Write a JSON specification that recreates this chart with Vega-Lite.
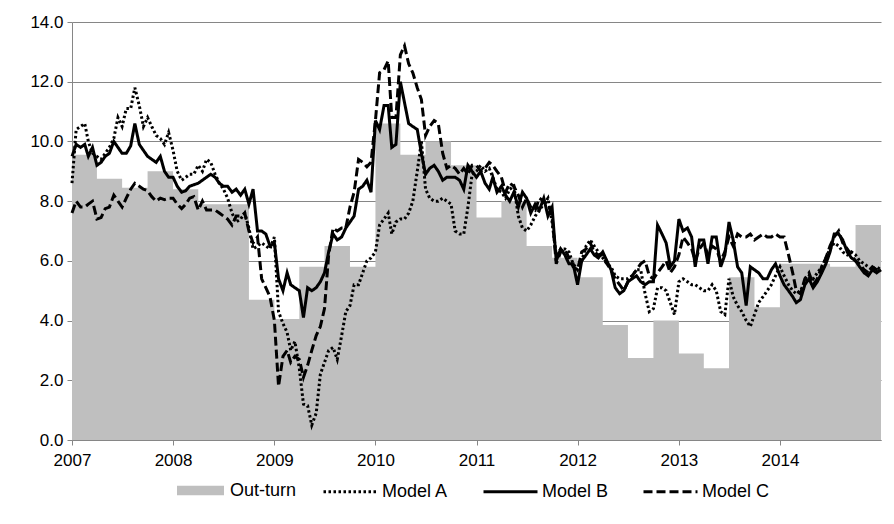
{
"$schema": "https://vega.github.io/schema/vega-lite/v6.json",
"width": 809, "height": 418,
"autosize": {"type": "none"},
"padding": {"left": 72, "top": 22, "right": 13, "bottom": 84},
"background": "white",
"config": {
  "view": {"stroke": null},
  "font": "Liberation Sans",
  "axis": {"labelFont": "Liberation Sans", "labelFontSize": 17, "labelColor": "#000000", "domainColor": "#868686", "tickColor": "#868686", "gridColor": "#868686", "tickSize": 5, "title": null},
  "legend": {"labelFont": "Liberation Sans", "labelFontSize": 18, "labelColor": "#000000", "title": null}
},
"datasets": {
"outturn": [
{"date":"2007-01-01","value":9.55},{"date":"2007-04-01","value":8.75},{"date":"2007-07-01","value":8.45},{"date":"2007-10-01","value":9.0},
{"date":"2008-01-01","value":8.4},{"date":"2008-04-01","value":7.9},{"date":"2008-07-01","value":7.9},{"date":"2008-10-01","value":4.7},
{"date":"2009-01-01","value":4.05},{"date":"2009-04-01","value":5.8},{"date":"2009-07-01","value":6.5},{"date":"2009-10-01","value":5.8},
{"date":"2010-01-01","value":10.6},{"date":"2010-04-01","value":9.55},{"date":"2010-07-01","value":10.0},{"date":"2010-10-01","value":9.2},
{"date":"2011-01-01","value":7.45},{"date":"2011-04-01","value":8.0},{"date":"2011-07-01","value":6.5},{"date":"2011-10-01","value":6.1},
{"date":"2012-01-01","value":5.45},{"date":"2012-04-01","value":3.85},{"date":"2012-07-01","value":2.75},{"date":"2012-10-01","value":4.0},
{"date":"2013-01-01","value":2.9},{"date":"2013-04-01","value":2.4},{"date":"2013-07-01","value":5.45},{"date":"2013-10-01","value":4.45},
{"date":"2014-01-01","value":5.9},{"date":"2014-04-01","value":5.9},{"date":"2014-07-01","value":5.8},{"date":"2014-10-01","value":7.2},
{"date":"2015-01-01","value":7.2}
],
"models": [
{"date":"2007-01-01","Model A":8.6,"Model B":9.5,"Model C":7.6},
{"date":"2007-01-16","Model A":10.4,"Model B":9.9,"Model C":8.0},
{"date":"2007-02-01","Model A":10.5,"Model B":9.8,"Model C":7.8},
{"date":"2007-02-16","Model A":10.6,"Model B":9.9,"Model C":7.8},
{"date":"2007-03-01","Model A":10.0,"Model B":9.5,"Model C":7.9},
{"date":"2007-03-16","Model A":9.6,"Model B":9.8,"Model C":8.0},
{"date":"2007-04-01","Model A":9.5,"Model B":9.2,"Model C":7.4},
{"date":"2007-04-16","Model A":9.4,"Model B":9.3,"Model C":7.45},
{"date":"2007-05-01","Model A":9.6,"Model B":9.5,"Model C":7.75},
{"date":"2007-05-16","Model A":9.8,"Model B":9.6,"Model C":7.8},
{"date":"2007-06-01","Model A":10.1,"Model B":10.0,"Model C":8.2},
{"date":"2007-06-16","Model A":10.8,"Model B":9.8,"Model C":8.0},
{"date":"2007-07-01","Model A":10.5,"Model B":9.6,"Model C":7.8},
{"date":"2007-07-16","Model A":11.1,"Model B":9.6,"Model C":8.1},
{"date":"2007-08-01","Model A":11.1,"Model B":9.85,"Model C":8.4},
{"date":"2007-08-16","Model A":11.8,"Model B":10.6,"Model C":8.6},
{"date":"2007-09-01","Model A":11.2,"Model B":9.9,"Model C":8.5},
{"date":"2007-09-16","Model A":10.5,"Model B":9.7,"Model C":8.4},
{"date":"2007-10-01","Model A":10.8,"Model B":9.5,"Model C":8.35},
{"date":"2007-10-16","Model A":10.5,"Model B":9.4,"Model C":8.15},
{"date":"2007-11-01","Model A":10.2,"Model B":9.3,"Model C":8.0},
{"date":"2007-11-16","Model A":10.1,"Model B":9.5,"Model C":8.1},
{"date":"2007-12-01","Model A":9.9,"Model B":9.0,"Model C":8.05},
{"date":"2007-12-16","Model A":10.3,"Model B":8.8,"Model C":8.1},
{"date":"2008-01-01","Model A":9.7,"Model B":8.8,"Model C":8.1},
{"date":"2008-01-16","Model A":9.0,"Model B":8.5,"Model C":7.9},
{"date":"2008-02-01","Model A":8.7,"Model B":8.3,"Model C":7.75},
{"date":"2008-02-16","Model A":8.8,"Model B":8.35,"Model C":7.9},
{"date":"2008-03-01","Model A":8.9,"Model B":8.5,"Model C":8.1},
{"date":"2008-03-16","Model A":8.9,"Model B":8.55,"Model C":8.15},
{"date":"2008-04-01","Model A":9.2,"Model B":8.6,"Model C":7.7},
{"date":"2008-04-16","Model A":9.0,"Model B":8.7,"Model C":8.0},
{"date":"2008-05-01","Model A":9.4,"Model B":8.8,"Model C":7.7},
{"date":"2008-05-16","Model A":9.3,"Model B":8.9,"Model C":7.7},
{"date":"2008-06-01","Model A":8.9,"Model B":8.8,"Model C":7.7},
{"date":"2008-06-16","Model A":8.6,"Model B":8.6,"Model C":7.6},
{"date":"2008-07-01","Model A":8.4,"Model B":8.5,"Model C":7.5},
{"date":"2008-07-16","Model A":8.1,"Model B":8.5,"Model C":7.4},
{"date":"2008-08-01","Model A":7.6,"Model B":8.3,"Model C":7.2},
{"date":"2008-08-16","Model A":7.3,"Model B":8.4,"Model C":7.5},
{"date":"2008-09-01","Model A":7.4,"Model B":8.2,"Model C":7.5},
{"date":"2008-09-16","Model A":7.6,"Model B":8.4,"Model C":7.6},
{"date":"2008-10-01","Model A":7.1,"Model B":7.9,"Model C":7.0},
{"date":"2008-10-16","Model A":6.4,"Model B":8.4,"Model C":6.6},
{"date":"2008-11-01","Model A":6.5,"Model B":7.0,"Model C":6.8},
{"date":"2008-11-16","Model A":6.6,"Model B":7.0,"Model C":5.4},
{"date":"2008-12-01","Model A":6.5,"Model B":6.9,"Model C":5.1},
{"date":"2008-12-16","Model A":6.4,"Model B":6.5,"Model C":4.8},
{"date":"2009-01-01","Model A":6.8,"Model B":6.6,"Model C":4.0},
{"date":"2009-01-16","Model A":4.3,"Model B":5.4,"Model C":1.8},
{"date":"2009-02-01","Model A":3.9,"Model B":5.0,"Model C":2.8},
{"date":"2009-02-16","Model A":3.6,"Model B":5.6,"Model C":3.0},
{"date":"2009-03-01","Model A":3.0,"Model B":5.2,"Model C":2.6},
{"date":"2009-03-16","Model A":3.3,"Model B":5.1,"Model C":2.8},
{"date":"2009-04-01","Model A":2.4,"Model B":5.0,"Model C":2.7},
{"date":"2009-04-16","Model A":1.2,"Model B":4.1,"Model C":2.1},
{"date":"2009-05-01","Model A":1.15,"Model B":5.1,"Model C":2.5},
{"date":"2009-05-16","Model A":0.5,"Model B":5.0,"Model C":3.0},
{"date":"2009-06-01","Model A":0.9,"Model B":5.1,"Model C":3.5},
{"date":"2009-06-16","Model A":2.2,"Model B":5.3,"Model C":3.8},
{"date":"2009-07-01","Model A":2.6,"Model B":5.6,"Model C":4.4},
{"date":"2009-07-16","Model A":3.0,"Model B":6.3,"Model C":6.2},
{"date":"2009-08-01","Model A":3.1,"Model B":6.9,"Model C":7.1},
{"date":"2009-08-16","Model A":2.7,"Model B":6.7,"Model C":7.0},
{"date":"2009-09-01","Model A":3.5,"Model B":6.8,"Model C":7.1},
{"date":"2009-09-16","Model A":4.3,"Model B":7.1,"Model C":7.1},
{"date":"2009-10-01","Model A":4.5,"Model B":7.3,"Model C":7.8},
{"date":"2009-10-16","Model A":5.2,"Model B":7.5,"Model C":8.3},
{"date":"2009-11-01","Model A":5.2,"Model B":8.4,"Model C":9.4},
{"date":"2009-11-16","Model A":5.6,"Model B":8.5,"Model C":9.3},
{"date":"2009-12-01","Model A":6.0,"Model B":8.7,"Model C":9.15},
{"date":"2009-12-16","Model A":6.1,"Model B":8.3,"Model C":9.3},
{"date":"2010-01-01","Model A":6.3,"Model B":10.7,"Model C":10.7},
{"date":"2010-01-16","Model A":7.2,"Model B":10.4,"Model C":12.3},
{"date":"2010-02-01","Model A":7.4,"Model B":11.2,"Model C":12.4},
{"date":"2010-02-16","Model A":7.6,"Model B":11.2,"Model C":12.7},
{"date":"2010-03-01","Model A":6.9,"Model B":9.8,"Model C":10.8},
{"date":"2010-03-16","Model A":7.3,"Model B":9.9,"Model C":10.8},
{"date":"2010-04-01","Model A":7.4,"Model B":12.0,"Model C":12.9},
{"date":"2010-04-16","Model A":7.4,"Model B":11.3,"Model C":13.2},
{"date":"2010-05-01","Model A":7.6,"Model B":10.6,"Model C":12.6},
{"date":"2010-05-16","Model A":8.0,"Model B":10.5,"Model C":12.3},
{"date":"2010-06-01","Model A":9.0,"Model B":10.4,"Model C":11.8},
{"date":"2010-06-16","Model A":10.0,"Model B":9.6,"Model C":11.4},
{"date":"2010-07-01","Model A":8.4,"Model B":8.9,"Model C":10.2},
{"date":"2010-07-16","Model A":8.1,"Model B":9.1,"Model C":10.5},
{"date":"2010-08-01","Model A":8.0,"Model B":9.2,"Model C":10.7},
{"date":"2010-08-16","Model A":8.0,"Model B":9.0,"Model C":10.6},
{"date":"2010-09-01","Model A":8.1,"Model B":8.7,"Model C":9.6},
{"date":"2010-09-16","Model A":8.0,"Model B":8.8,"Model C":9.1},
{"date":"2010-10-01","Model A":7.9,"Model B":8.8,"Model C":9.2},
{"date":"2010-10-16","Model A":7.0,"Model B":8.8,"Model C":9.1},
{"date":"2010-11-01","Model A":6.9,"Model B":8.7,"Model C":8.9},
{"date":"2010-11-16","Model A":6.9,"Model B":8.4,"Model C":9.1},
{"date":"2010-12-01","Model A":7.8,"Model B":9.2,"Model C":8.9},
{"date":"2010-12-16","Model A":8.9,"Model B":9.0,"Model C":9.2},
{"date":"2011-01-01","Model A":9.0,"Model B":8.8,"Model C":9.2},
{"date":"2011-01-16","Model A":9.2,"Model B":9.0,"Model C":9.0},
{"date":"2011-02-01","Model A":9.0,"Model B":8.6,"Model C":9.1},
{"date":"2011-02-16","Model A":9.1,"Model B":8.4,"Model C":9.3},
{"date":"2011-03-01","Model A":8.8,"Model B":8.8,"Model C":9.2},
{"date":"2011-03-16","Model A":8.4,"Model B":8.3,"Model C":9.0},
{"date":"2011-04-01","Model A":8.3,"Model B":8.5,"Model C":8.8},
{"date":"2011-04-16","Model A":8.1,"Model B":8.2,"Model C":8.3},
{"date":"2011-05-01","Model A":8.4,"Model B":8.0,"Model C":8.6},
{"date":"2011-05-16","Model A":8.5,"Model B":8.3,"Model C":8.5},
{"date":"2011-06-01","Model A":7.5,"Model B":7.8,"Model C":8.2},
{"date":"2011-06-16","Model A":7.1,"Model B":8.3,"Model C":7.8},
{"date":"2011-07-01","Model A":7.0,"Model B":8.1,"Model C":8.1},
{"date":"2011-07-16","Model A":7.2,"Model B":7.6,"Model C":7.8},
{"date":"2011-08-01","Model A":7.5,"Model B":7.9,"Model C":7.7},
{"date":"2011-08-16","Model A":7.7,"Model B":7.7,"Model C":8.1},
{"date":"2011-09-01","Model A":7.9,"Model B":8.1,"Model C":8.0},
{"date":"2011-09-16","Model A":8.1,"Model B":7.5,"Model C":7.9},
{"date":"2011-10-01","Model A":7.3,"Model B":7.8,"Model C":7.5},
{"date":"2011-10-16","Model A":6.2,"Model B":6.0,"Model C":5.9},
{"date":"2011-11-01","Model A":6.4,"Model B":6.4,"Model C":6.3},
{"date":"2011-11-16","Model A":6.4,"Model B":6.2,"Model C":6.4},
{"date":"2011-12-01","Model A":6.3,"Model B":5.9,"Model C":6.1},
{"date":"2011-12-16","Model A":5.9,"Model B":5.9,"Model C":5.8},
{"date":"2012-01-01","Model A":5.7,"Model B":5.2,"Model C":5.7},
{"date":"2012-01-16","Model A":6.0,"Model B":6.0,"Model C":6.3},
{"date":"2012-02-01","Model A":6.5,"Model B":6.2,"Model C":6.4},
{"date":"2012-02-16","Model A":6.7,"Model B":6.4,"Model C":6.6},
{"date":"2012-03-01","Model A":6.5,"Model B":6.2,"Model C":6.3},
{"date":"2012-03-16","Model A":6.3,"Model B":6.1,"Model C":6.2},
{"date":"2012-04-01","Model A":6.1,"Model B":6.3,"Model C":6.2},
{"date":"2012-04-16","Model A":5.9,"Model B":6.0,"Model C":5.9},
{"date":"2012-05-01","Model A":5.8,"Model B":5.7,"Model C":5.7},
{"date":"2012-05-16","Model A":5.5,"Model B":5.1,"Model C":5.4},
{"date":"2012-06-01","Model A":5.4,"Model B":4.9,"Model C":5.2},
{"date":"2012-06-16","Model A":5.4,"Model B":5.0,"Model C":5.0},
{"date":"2012-07-01","Model A":5.4,"Model B":5.3,"Model C":5.3},
{"date":"2012-07-16","Model A":5.5,"Model B":5.4,"Model C":5.5},
{"date":"2012-08-01","Model A":5.7,"Model B":5.5,"Model C":5.7},
{"date":"2012-08-16","Model A":5.7,"Model B":5.3,"Model C":5.9},
{"date":"2012-09-01","Model A":4.9,"Model B":5.2,"Model C":6.0},
{"date":"2012-09-16","Model A":4.3,"Model B":5.3,"Model C":5.5},
{"date":"2012-10-01","Model A":4.4,"Model B":5.3,"Model C":5.4},
{"date":"2012-10-16","Model A":5.1,"Model B":7.2,"Model C":5.6},
{"date":"2012-11-01","Model A":5.1,"Model B":6.9,"Model C":5.8},
{"date":"2012-11-16","Model A":5.0,"Model B":6.6,"Model C":6.0},
{"date":"2012-12-01","Model A":4.6,"Model B":5.8,"Model C":5.6},
{"date":"2012-12-16","Model A":4.2,"Model B":6.0,"Model C":5.8},
{"date":"2013-01-01","Model A":5.3,"Model B":7.4,"Model C":6.2},
{"date":"2013-01-16","Model A":5.4,"Model B":7.0,"Model C":6.8},
{"date":"2013-02-01","Model A":5.3,"Model B":7.1,"Model C":6.6},
{"date":"2013-02-16","Model A":5.2,"Model B":6.8,"Model C":6.4},
{"date":"2013-03-01","Model A":5.2,"Model B":5.8,"Model C":6.0},
{"date":"2013-03-16","Model A":5.1,"Model B":6.7,"Model C":6.4},
{"date":"2013-04-01","Model A":5.0,"Model B":6.7,"Model C":6.6},
{"date":"2013-04-16","Model A":5.0,"Model B":5.9,"Model C":6.2},
{"date":"2013-05-01","Model A":5.2,"Model B":6.8,"Model C":6.5},
{"date":"2013-05-16","Model A":5.0,"Model B":6.8,"Model C":6.4},
{"date":"2013-06-01","Model A":4.3,"Model B":5.8,"Model C":6.0},
{"date":"2013-06-16","Model A":4.2,"Model B":6.2,"Model C":6.3},
{"date":"2013-07-01","Model A":5.4,"Model B":7.3,"Model C":6.8},
{"date":"2013-07-16","Model A":4.8,"Model B":6.7,"Model C":6.5},
{"date":"2013-08-01","Model A":4.5,"Model B":5.8,"Model C":6.9},
{"date":"2013-08-16","Model A":4.3,"Model B":5.6,"Model C":6.8},
{"date":"2013-09-01","Model A":4.0,"Model B":4.5,"Model C":6.8},
{"date":"2013-09-16","Model A":3.8,"Model B":5.8,"Model C":6.9},
{"date":"2013-10-01","Model A":4.2,"Model B":5.7,"Model C":6.7},
{"date":"2013-10-16","Model A":4.6,"Model B":5.6,"Model C":6.8},
{"date":"2013-11-01","Model A":4.8,"Model B":5.4,"Model C":6.9},
{"date":"2013-11-16","Model A":5.0,"Model B":5.4,"Model C":6.8},
{"date":"2013-12-01","Model A":5.2,"Model B":5.7,"Model C":6.8},
{"date":"2013-12-16","Model A":5.5,"Model B":5.9,"Model C":6.9},
{"date":"2014-01-01","Model A":5.8,"Model B":5.5,"Model C":6.8},
{"date":"2014-01-16","Model A":5.5,"Model B":5.2,"Model C":6.8},
{"date":"2014-02-01","Model A":5.2,"Model B":5.0,"Model C":6.2},
{"date":"2014-02-16","Model A":5.0,"Model B":4.8,"Model C":5.6},
{"date":"2014-03-01","Model A":4.9,"Model B":4.6,"Model C":5.0},
{"date":"2014-03-16","Model A":5.0,"Model B":4.7,"Model C":4.9},
{"date":"2014-04-01","Model A":5.3,"Model B":5.2,"Model C":5.4},
{"date":"2014-04-16","Model A":5.5,"Model B":5.4,"Model C":5.6},
{"date":"2014-05-01","Model A":5.4,"Model B":5.1,"Model C":5.2},
{"date":"2014-05-16","Model A":5.6,"Model B":5.3,"Model C":5.4},
{"date":"2014-06-01","Model A":5.8,"Model B":5.6,"Model C":5.8},
{"date":"2014-06-16","Model A":6.1,"Model B":5.9,"Model C":6.1},
{"date":"2014-07-01","Model A":6.4,"Model B":6.3,"Model C":6.5},
{"date":"2014-07-16","Model A":6.6,"Model B":6.9,"Model C":6.8},
{"date":"2014-08-01","Model A":6.5,"Model B":6.9,"Model C":7.0},
{"date":"2014-08-16","Model A":6.3,"Model B":6.7,"Model C":6.6},
{"date":"2014-09-01","Model A":6.2,"Model B":6.3,"Model C":6.4},
{"date":"2014-09-16","Model A":6.3,"Model B":6.1,"Model C":6.2},
{"date":"2014-10-01","Model A":6.2,"Model B":6.0,"Model C":6.0},
{"date":"2014-10-16","Model A":6.0,"Model B":5.8,"Model C":5.9},
{"date":"2014-11-01","Model A":5.9,"Model B":5.6,"Model C":5.7},
{"date":"2014-11-16","Model A":5.8,"Model B":5.5,"Model C":5.6},
{"date":"2014-12-01","Model A":5.7,"Model B":5.7,"Model C":5.8},
{"date":"2014-12-16","Model A":5.8,"Model B":5.6,"Model C":5.7},
{"date":"2015-01-01","Model A":5.7,"Model B":5.7,"Model C":5.7}
]
},
"layer": [
{
  "data": {"name": "outturn"},
  "mark": {"type": "area", "interpolate": "step-after"},
  "encoding": {
    "x": {"field": "date", "type": "temporal",
      "scale": {"type": "utc", "domain": [{"year": 2007, "month": 1, "date": 1, "utc": true}, {"year": 2015, "month": 1, "date": 1, "utc": true}]},
      "axis": {"values": [{"year": 2007, "utc": true}, {"year": 2008, "utc": true}, {"year": 2009, "utc": true}, {"year": 2010, "utc": true}, {"year": 2011, "utc": true}, {"year": 2012, "utc": true}, {"year": 2013, "utc": true}, {"year": 2014, "utc": true}],
        "format": "%Y", "formatType": "utc", "grid": false, "labelAngle": 0, "labelPadding": 7, "labelFlush": false, "labelOverlap": false}},
    "y": {"field": "value", "type": "quantitative",
      "scale": {"domain": [0, 14], "nice": false, "zero": true},
      "axis": {"values": [0, 2, 4, 6, 8, 10, 12, 14], "format": ".1f", "grid": true, "labelPadding": 4}},
    "fill": {"datum": "Out-turn", "type": "nominal", "scale": {"range": ["#bfbfbf"]},
      "legend": {"orient": "none", "legendX": 105, "legendY": 445, "symbolType": "M-1,-0.2H1V0.2H-1Z", "symbolSize": 2209, "symbolStrokeWidth": 0, "symbolOpacity": 1, "labelOffset": 6}}
  }
},
{
  "data": {"name": "models"},
  "transform": [{"fold": ["Model A", "Model B", "Model C"], "as": ["series", "value"]}],
  "mark": {"type": "line", "stroke": "#000000", "strokeWidth": 3},
  "encoding": {
    "x": {"field": "date", "type": "temporal"},
    "y": {"field": "value", "type": "quantitative"},
    "strokeDash": {"field": "series", "type": "nominal",
      "scale": {"domain": ["Model A", "Model B", "Model C"], "range": [[2.5, 2.5], [1, 0], [9, 4]]},
      "legend": {"orient": "none", "legendX": 250, "legendY": 441, "direction": "horizontal", "symbolType": "stroke", "symbolSize": 2916, "symbolStrokeWidth": 3, "symbolStrokeColor": "#000000", "labelOffset": 3, "columnPadding": 28}}
  }
}
]
}
